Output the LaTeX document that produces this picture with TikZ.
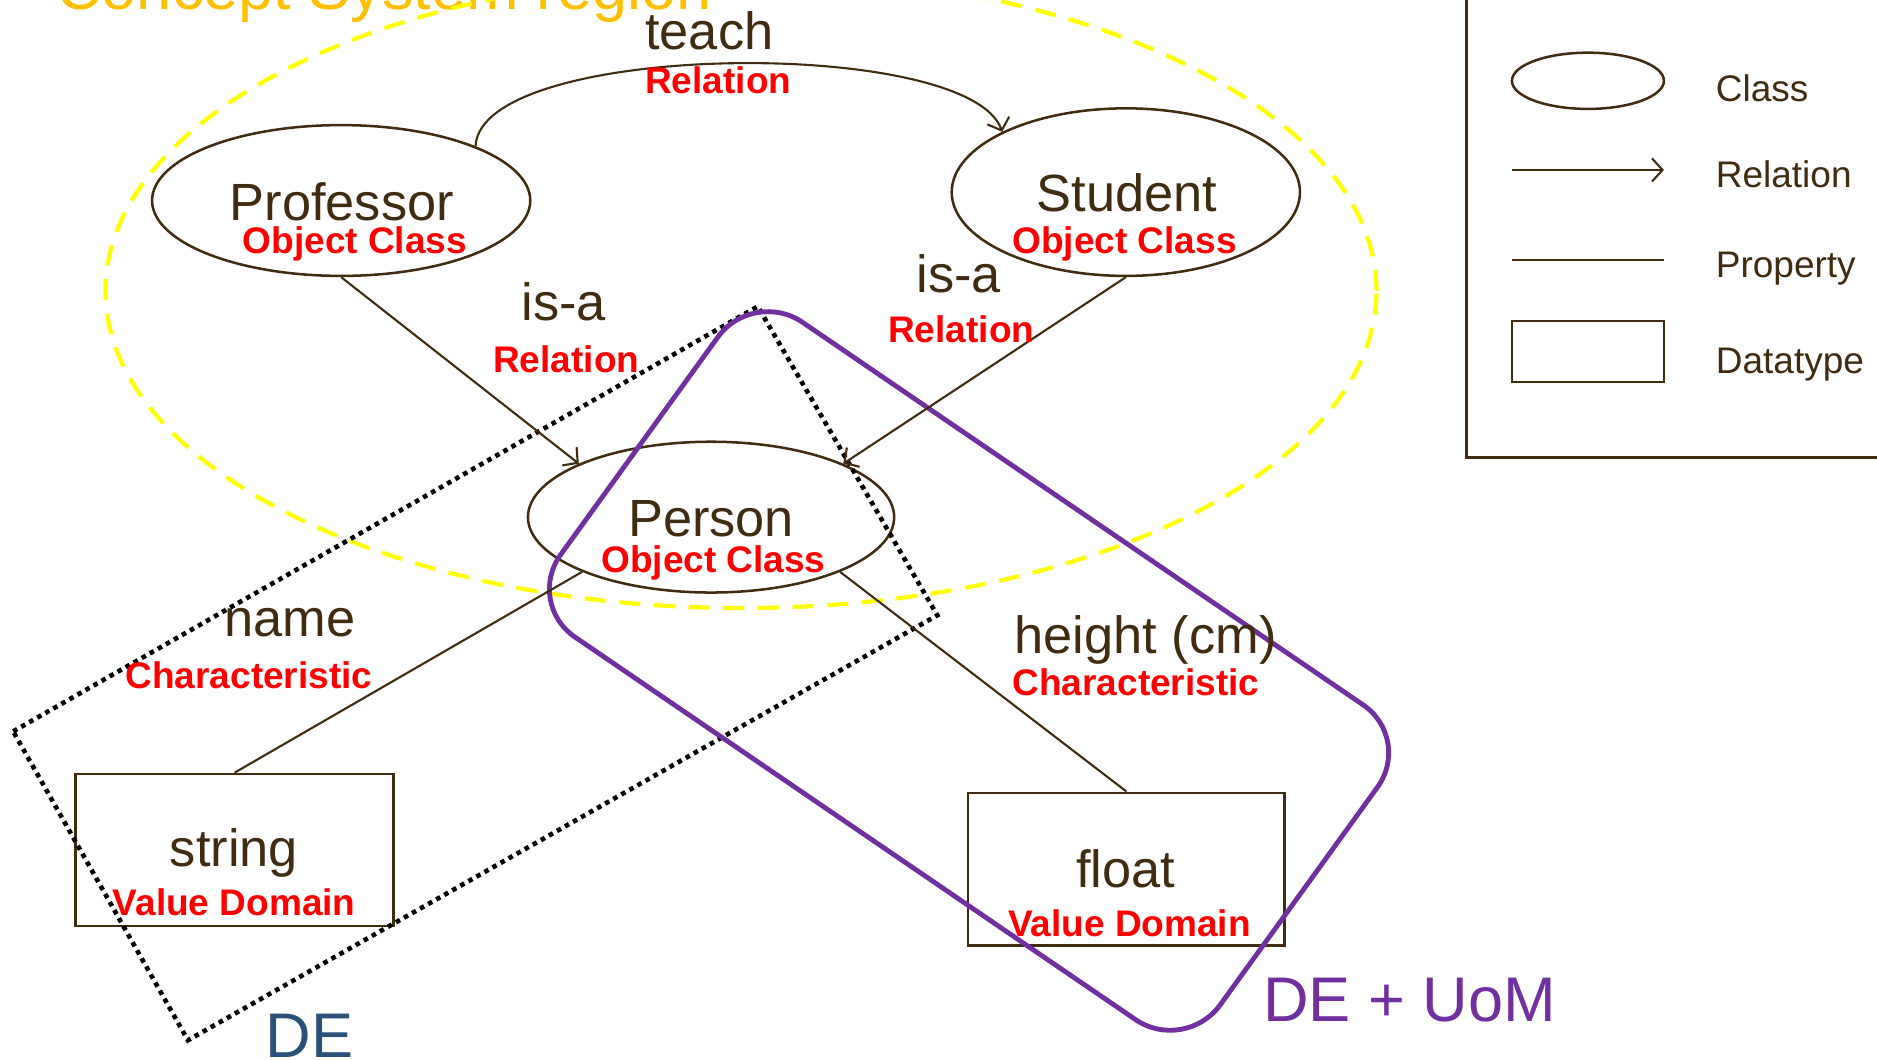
\documentclass[tikz,border=0pt]{standalone}
\usepackage{fontspec}
\setmainfont{Liberation Sans}
\usepackage{tikz}
\usetikzlibrary{shapes.geometric}
\usetikzlibrary{arrows.meta}

\definecolor{ink}{HTML}{402C10}
\definecolor{relred}{HTML}{FF0000}
\definecolor{regionyellow}{HTML}{FFFF00}
\definecolor{titleorange}{HTML}{FFC000}
\definecolor{deblue}{HTML}{2B5179}
\definecolor{uompurple}{HTML}{7030A0}

\begin{document}
\begin{tikzpicture}[x = 0.02cm, y = -0.02cm,
	class/.style = {draw=ink, line width=1.2pt, ellipse, inner sep=0pt},
	dtype/.style = {draw=ink, line width=1.2pt, rectangle, inner sep=0pt},
	rel/.style = {draw=ink, line width=1pt, -{Straight Barb[length=5pt, width=11pt]}},
	prop/.style = {draw=ink, line width=1pt},
	term/.style = {text=ink, font=\fontsize{24.9}{30}\selectfont, anchor=base, inner sep=0pt},
	kind/.style = {text=relred, font=\fontsize{17.6}{21}\selectfont\bfseries, anchor=base, inner sep=0pt},
	legtext/.style = {text=ink, font=\fontsize{17.6}{21}\selectfont, anchor=base west, inner sep=0pt},
	big/.style = {font=\fontsize{30}{36}\selectfont, anchor=base west, inner sep=0pt},
	region/.style = {draw=regionyellow, line width=2pt, dash pattern=on 10pt off 6.5pt},
	dearea/.style = {draw=black, line width=2.2pt, dash pattern=on 2.2pt off 2.2pt},
	uomarea/.style = {draw=uompurple, line width=2.3pt, rounded corners=1cm}]
	\useasboundingbox (0, 0) rectangle (1568, 885);

	% Nodes
	\node[class, minimum width=6.32cm, minimum height=2.52cm] (prof) at (285, 167.5) {};
	\node[class, minimum width=5.82cm, minimum height=2.8cm] (stud) at (940.5, 160.5) {};
	\node[class, minimum width=6.12cm, minimum height=2.52cm] (person) at (594, 432) {};
	\node[dtype, minimum width=5.31cm, minimum height=2.54cm] (string) at (196, 710) {};
	\node[dtype, minimum width=5.29cm, minimum height=2.55cm] (float) at (941, 726) {};

	% Regions
	\node[big, text=titleorange] (title) at (46.7, 7.8) {Concept System region};
	\draw[region] (619, 243) ellipse [x radius=10.62cm, y radius=5.3cm];
	\draw[dearea] (11, 611) -- (633, 256) -- (783, 514) -- (157, 869) -- cycle;
	\draw[uomarea] (534, 372.5) -- (629, 241) -- (1180, 617) -- (990, 880) -- (439, 504) -- cycle;
	\node[big, text=deblue] (de) at (221.4, 883) {DE};
	\node[big, text=uompurple] (deuom) at (1055, 853) {DE + UoM};

	% Edges
	\draw[rel] (prof.22) .. controls +(4, -88) and +(-28, -80) .. (stud.154);
	\draw[rel] (prof.south) -- (person.158);
	\draw[rel] (stud.south) -- (person.22);
	\draw[prop] (person.203) -- (string.north);
	\draw[prop] (person.-23) -- (float.north);

	% Labels
	\node[term] (profname) at (285.5, 184) {Professor};
	\node[kind] (profkind) at (296.5, 212) {Object Class};
	\node[term] (studname) at (941.5, 177) {Student};
	\node[kind] (studkind) at (939.5, 212) {Object Class};
	\node[term] (personname) at (594, 448) {Person};
	\node[kind] (personkind) at (596, 478) {Object Class};
	\node[term] (teach) at (592.5, 41) {teach};
	\node[kind] (teachkind) at (600, 78) {Relation};
	\node[term] (isaleft) at (471, 268) {is-a};
	\node[kind] (isaleftkind) at (473, 311) {Relation};
	\node[term] (isaright) at (801, 244) {is-a};
	\node[kind] (isarightkind) at (803, 286) {Relation};
	\node[term] (nameprop) at (242, 532) {name};
	\node[kind] (namekind) at (208, 575) {Characteristic};
	\node[term] (heightprop) at (957, 545.5) {height (cm)};
	\node[kind] (heightkind) at (949, 581) {Characteristic};
	\node[term] (stringname) at (195.5, 724) {string};
	\node[kind] (stringkind) at (195.6, 765) {Value Domain};
	\node[term] (floatname) at (940.5, 741) {float};
	\node[kind] (floatkind) at (943.5, 782) {Value Domain};

	% Legend
	\draw[ink, line width=1.3pt] (1225, -10) -- (1225, 382) -- (1580, 382);
	\node[class, minimum width=2.54cm, minimum height=0.94cm] (legclass) at (1326.5, 67.5) {};
	\coordinate (legrelA) at (1263, 142);
	\coordinate (legrelB) at (1390, 142);
	\draw[rel] (legrelA) -- (legrelB);
	\coordinate (legpropA) at (1263, 217);
	\coordinate (legpropB) at (1390, 217);
	\draw[prop, line width=1.2pt] (legpropA) -- (legpropB);
	\node[dtype, minimum width=2.54cm, minimum height=1.02cm] (legtype) at (1326.5, 293.5) {};
	\node[legtext] (legclasstext) at (1433, 85) {Class};
	\node[legtext] (legreltext) at (1433, 157) {Relation};
	\node[legtext] (legproptext) at (1433, 232) {Property};
	\node[legtext] (legtypetext) at (1433, 312) {Datatype};
\end{tikzpicture}
\end{document}
